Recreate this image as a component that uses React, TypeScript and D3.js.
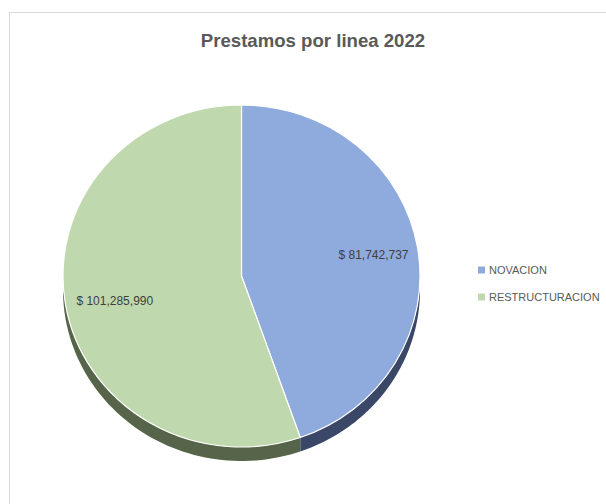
import { useEffect, useRef } from 'react';
import * as d3 from 'd3';

const categories = ['NOVACION', 'RESTRUCTURACION'];
const values = [81742737, 101285990];
const title = 'Prestamos por linea 2022';

const topColors = ['#8FAADC', '#BFD8AD'];
const sideColors = ['#3A4766', '#566449'];

const W = 606;
const H = 504;
const FONT = '"Liberation Sans", Arial, sans-serif';

export default function App() {
  const svgRef = useRef<SVGSVGElement>(null);

  useEffect(() => {
    if (!svgRef.current) return;
    const svg = d3.select(svgRef.current);
    svg.selectAll('*').remove();

    // chart frame
    svg.append('rect')
      .attr('x', 9.5).attr('y', 12.5)
      .attr('width', W).attr('height', H)
      .attr('fill', '#fff')
      .attr('stroke', '#D9D9D9');

    svg.append('text')
      .attr('x', 313).attr('y', 47)
      .attr('text-anchor', 'middle')
      .style('font-family', FONT)
      .style('font-size', '18.6px')
      .style('font-weight', 'bold')
      .style('fill', '#595959')
      .text(title);

    const cx = 241.5;
    const cy = 276;
    const rx = 178.5;
    const ry = 171;
    const depth = 14;

    const data = categories.map((name, i) => ({ name, value: values[i], i }));
    const pie = d3.pie<typeof data[0]>().value(d => d.value).sort(null);
    const arcs = pie(data);

    const pt = (a: number, dy = 0): [number, number] =>
      [cx + rx * Math.sin(a), cy - ry * Math.cos(a) + dy];

    // side walls (front half only)
    const line = d3.line();
    arcs.forEach(a => {
      const s = Math.max(a.startAngle, Math.PI / 2);
      const e = Math.min(a.endAngle, Math.PI * 1.5);
      if (e <= s) return;
      const steps = d3.range(0, 61).map(k => s + (e - s) * k / 60);
      const pts = [
        ...steps.map(t => pt(t)),
        ...steps.slice().reverse().map(t => pt(t, depth))
      ];
      svg.append('path')
        .attr('d', line(pts) + 'Z')
        .attr('fill', sideColors[a.data.i]);
    });

    // top surface
    const g = svg.append('g')
      .attr('transform', `translate(${cx},${cy}) scale(1,${ry / rx})`);
    const arc = d3.arc<d3.PieArcDatum<typeof data[0]>>()
      .innerRadius(0)
      .outerRadius(rx);
    g.selectAll('path.top')
      .data(arcs)
      .enter().append('path')
      .attr('class', 'top')
      .attr('d', arc)
      .attr('fill', d => topColors[d.data.i])
      .attr('stroke', '#fff')
      .attr('stroke-width', 1.2);

    // data labels (best-fit style, inside the slices)
    const labelK = [0.75, 0.72];
    const labelDy = [0, 4];
    const fmt = d3.format(',');
    arcs.forEach(a => {
      const mid = (a.startAngle + a.endAngle) / 2;
      const k = labelK[a.data.i];
      const x = cx + rx * k * Math.sin(mid);
      const y = cy - ry * k * Math.cos(mid) + labelDy[a.data.i];
      svg.append('text')
        .attr('x', x).attr('y', y)
        .attr('dy', '0.35em')
        .attr('text-anchor', 'middle')
        .style('font-family', FONT)
        .style('font-size', '12px')
        .style('fill', '#404040')
        .text(`$ ${fmt(a.data.value)}`);
    });

    // legend
    const legend = svg.append('g').attr('transform', 'translate(478, 270)');
    const items = legend.selectAll('g')
      .data(data)
      .enter().append('g')
      .attr('transform', (d, i) => `translate(0, ${i * 27})`);
    items.append('rect')
      .attr('x', 0).attr('y', -3.5)
      .attr('width', 7).attr('height', 7)
      .attr('fill', d => topColors[d.i]);
    items.append('text')
      .attr('x', 11).attr('y', 0)
      .attr('dy', '0.35em')
      .style('font-family', FONT)
      .style('font-size', '11px')
      .style('fill', '#595959')
      .text(d => d.name);
  }, []);

  return (
    <svg
      ref={svgRef}
      width={W}
      height={H}
      style={{ position: 'absolute', left: 0, top: 0, display: 'block' }}
    />
  );
}
